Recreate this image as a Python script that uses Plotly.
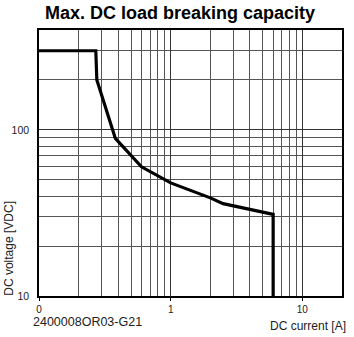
import plotly.graph_objects as go

# Data (log-log)
current_a = [0.1, 0.27, 0.275, 0.38, 0.6, 1.0, 2.0, 2.5, 6.0, 6.0]
voltage_v = [300, 300, 200, 89, 60, 48, 39, 36, 31, 10]

x_tick_vals = [0.1, 1, 10]
x_tick_text = ["0", "1", "10"]
y_tick_vals = [10, 100]
y_tick_text = ["10", "100"]
x_minor_vals = [0.2, 0.3, 0.4, 0.5, 0.6, 0.7, 0.8, 0.9, 2, 3, 4, 5, 6, 7, 8, 9]
y_minor_vals = [20, 30, 40, 50, 60, 70, 80, 90, 200, 300]

FONT = "Arial, Liberation Sans, sans-serif"

fig = go.Figure()
fig.add_trace(go.Scatter(x=current_a, y=voltage_v, mode="lines",
                         line=dict(color="black", width=3.2), showlegend=False,
                         hoverinfo="skip"))

fig.update_layout(
    width=354, height=337,
    margin=dict(l=39, r=10, t=30, b=41),
    paper_bgcolor="white", plot_bgcolor="white",
    font=dict(family=FONT, color="#222", size=10),
    title=dict(text="<b>Max. DC load breaking capacity</b>", x=180/354, xanchor="center",
               xref="container", y=1 - 13/337, yref="container", yanchor="middle",
               font=dict(family=FONT, size=18, color="black")),
    xaxis=dict(type="log", range=[-1, 1.301], tickmode="array",
               tickvals=x_tick_vals, ticktext=x_tick_text,
               showgrid=True, gridcolor="#333", gridwidth=1,
               ticks="outside", ticklen=3, tickcolor="black",
               showline=True, linecolor="black", linewidth=1.5, mirror=True,
               zeroline=False, tickfont=dict(size=10, color="#222"),
               minor=dict(tickmode="array", tickvals=x_minor_vals, showgrid=True,
                          gridcolor="#555", gridwidth=1, ticks="")),
    yaxis=dict(type="log", range=[1, 2.602], tickmode="array",
               tickvals=y_tick_vals, ticktext=y_tick_text,
               showgrid=True, gridcolor="#333", gridwidth=1,
               ticks="", ticklen=0, ticklabelstandoff=6,
               showline=True, linecolor="black", linewidth=1.5, mirror=True,
               zeroline=False, tickfont=dict(size=10.5, color="#222"),
               minor=dict(tickmode="array", tickvals=y_minor_vals, showgrid=True,
                          gridcolor="#555", gridwidth=1, ticks="")),
    annotations=[
        dict(text="DC voltage [VDC]", textangle=-90, xref="paper", yref="paper",
             x=-0.097, y=0.18, xanchor="center", yanchor="middle", showarrow=False,
             font=dict(family=FONT, size=12, color="#222")),
        dict(text="DC current [A]", xref="paper", yref="paper",
             x=1.02, y=-0.113, xanchor="right", yanchor="middle", showarrow=False,
             font=dict(family=FONT, size=12, color="#222")),
        dict(text="2400008OR03-G21", xref="paper", yref="paper",
             x=-0.023, y=-0.097, xanchor="left", yanchor="middle", showarrow=False,
             borderpad=0, font=dict(family=FONT, size=12.5, color="#222")),
    ],
)

fig.write_html("out.html")
